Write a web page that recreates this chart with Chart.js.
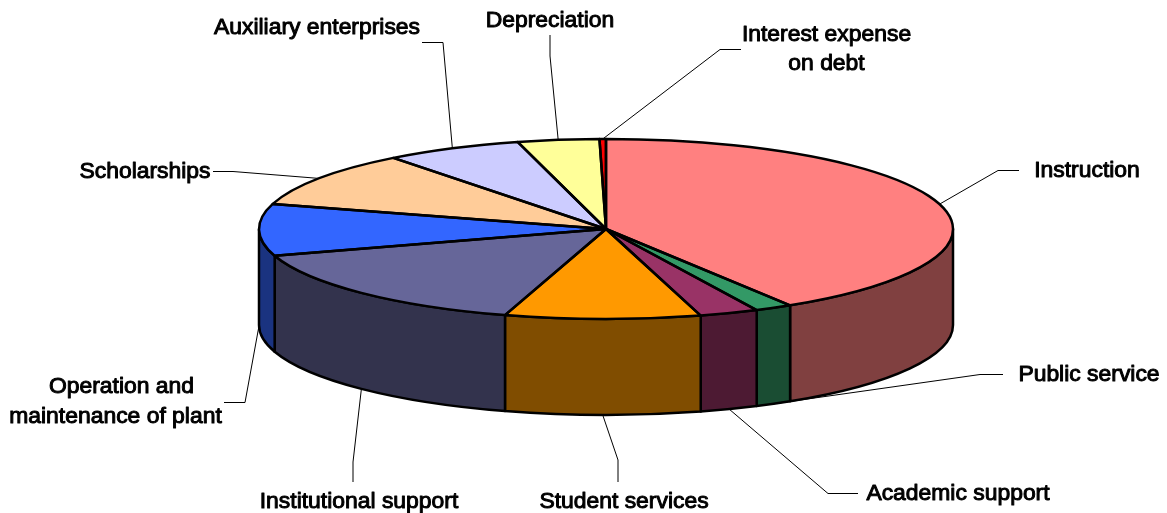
<!DOCTYPE html>
<html>
<head>
<meta charset="utf-8">
<title>Expenses by function</title>
<script src="https://cdn.jsdelivr.net/npm/chart.js@4"></script>
<style>
    html, body { margin: 0; padding: 0; background: #fff; }
    canvas { display: block; }
</style>
</head>
<body>
<canvas id="expensePie" width="1167" height="513"></canvas>
<script>
// Share of expenses, in percent, clockwise from twelve o'clock
const categories = [
    "Instruction", "Public service", "Academic support", "Student services",
    "Institutional support", "Operation and maintenance of plant", "Scholarships",
    "Auxiliary enterprises", "Depreciation", "Interest expense on debt"
];
const shares = [41.1, 1.75, 2.75, 9.1, 15.5, 9.3, 10, 6.4, 3.8, 0.3];
const sliceColors = [
    "#FF8080", "#339966", "#993366", "#FF9900", "#666699",
    "#3366FF", "#FFCC99", "#CCCCFF", "#FFFF99", "#FF0000"
];

// Label text lines with their centre points
const labelLines = [
    [["Instruction", 1087, 171]],
    [["Public service", 1089, 375]],
    [["Academic support", 958, 494]],
    [["Student services", 624, 502]],
    [["Institutional support", 359, 502]],
    [["Operation and", 121.5, 387], ["maintenance of plant", 115.5, 417]],
    [["Scholarships", 145, 172]],
    [["Auxiliary enterprises", 317, 28]],
    [["Depreciation", 550, 21]],
    [["Interest expense", 826.5, 35], ["on debt", 826.5, 64]]
];
// Leader line bends: elbow point, then the end next to the label
const leaderBends = [
    [[998, 170.5], [1019, 170.5]],
    [[980, 374.5], [1003, 374.5]],
    [[828, 493.5], [858, 493.5]],
    [[618, 460], [618, 482]],
    [[353, 462], [353, 482]],
    [[245, 402.5], [224, 402.5]],
    [[233, 171.5], [213, 171.5]],
    [[443, 42.5], [422, 42.5]],
    [[550, 56], [550, 35]],
    [[720, 49.5], [741, 49.5]]
];

const RADIUS_X = 347;
const SQUASH = 90 / 347;
const DEPTH = 96;

function darken(hex) {
    const n = parseInt(hex.slice(1), 16);
    const half = v => Math.round(v / 2);
    return `rgb(${half(n >> 16)}, ${half((n >> 8) & 255)}, ${half(n & 255)})`;
}

// Tilts the library's pie into an ellipse and adds the wall, outlines and labels around it
const tiltedPie = {
    id: "tiltedPie",
    beforeDatasetsDraw(chart) {
        const ctx = chart.ctx;
        const arcs = chart.getDatasetMeta(0).data;
        const cx = arcs[0].x;
        const cy = arcs[0].y;
        const rx = arcs[0].outerRadius;
        const ry = rx * SQUASH;

        // leader lines go underneath the pie body
        ctx.save();
        ctx.strokeStyle = "#000";
        ctx.lineWidth = 1;
        arcs.forEach((arc, i) => {
            const mid = (arc.startAngle + arc.endAngle) / 2;
            const sx = cx + rx * Math.cos(mid);
            let sy = cy + ry * Math.sin(mid);
            if (Math.sin(mid) > -0.1 && Math.cos(mid) < 0.9) sy += DEPTH;
            ctx.beginPath();
            ctx.moveTo(sx, sy);
            leaderBends[i].forEach(p => ctx.lineTo(p[0], p[1]));
            ctx.stroke();
        });

        // outer wall, only the front half of the rim can be seen
        ctx.lineWidth = 2.5;
        ctx.lineJoin = "round";
        arcs.forEach((arc, i) => {
            const from = Math.max(arc.startAngle, 0);
            const to = Math.min(arc.endAngle, Math.PI);
            if (to <= from) return;
            ctx.beginPath();
            ctx.ellipse(cx, cy, rx, ry, 0, from, to);
            ctx.ellipse(cx, cy + DEPTH, rx, ry, 0, to, from, true);
            ctx.closePath();
            ctx.fillStyle = darken(sliceColors[i]);
            ctx.fill();
            ctx.stroke();
        });
        ctx.restore();

        ctx.save();
        ctx.translate(cx, cy);
        ctx.scale(1, SQUASH);
        ctx.translate(-cx, -cy);
    },
    afterDatasetsDraw(chart) {
        const ctx = chart.ctx;
        ctx.restore();

        const arcs = chart.getDatasetMeta(0).data;
        const cx = arcs[0].x;
        const cy = arcs[0].y;
        const rx = arcs[0].outerRadius;
        const ry = rx * SQUASH;

        ctx.save();
        ctx.strokeStyle = "#000";
        ctx.lineWidth = 2.5;
        ctx.lineJoin = "round";
        arcs.forEach(arc => {
            ctx.beginPath();
            ctx.moveTo(cx, cy);
            ctx.ellipse(cx, cy, rx, ry, 0, arc.startAngle, arc.endAngle);
            ctx.closePath();
            ctx.stroke();
        });

        // regular weight with a thin stroke gives the heavy, narrow lettering
        ctx.fillStyle = "#000";
        ctx.lineWidth = 1;
        ctx.font = "22.9px 'Liberation Sans'";
        ctx.textAlign = "center";
        ctx.textBaseline = "middle";
        labelLines.forEach(lines => {
            lines.forEach(l => {
                ctx.fillText(l[0], l[1], l[2]);
                ctx.strokeText(l[0], l[1], l[2]);
            });
        });
        ctx.restore();
    }
};

new Chart(document.getElementById("expensePie"), {
    type: "pie",
    data: {
        labels: categories,
        datasets: [{
            data: shares,
            backgroundColor: sliceColors,
            borderWidth: 0,
            clip: false
        }]
    },
    options: {
        responsive: false,
        animation: false,
        events: [],
        radius: RADIUS_X,
        layout: { padding: { left: 45, bottom: 55 } },
        plugins: {
            legend: { display: false },
            tooltip: { enabled: false }
        }
    },
    plugins: [tiltedPie]
});
</script>
</body>
</html>
